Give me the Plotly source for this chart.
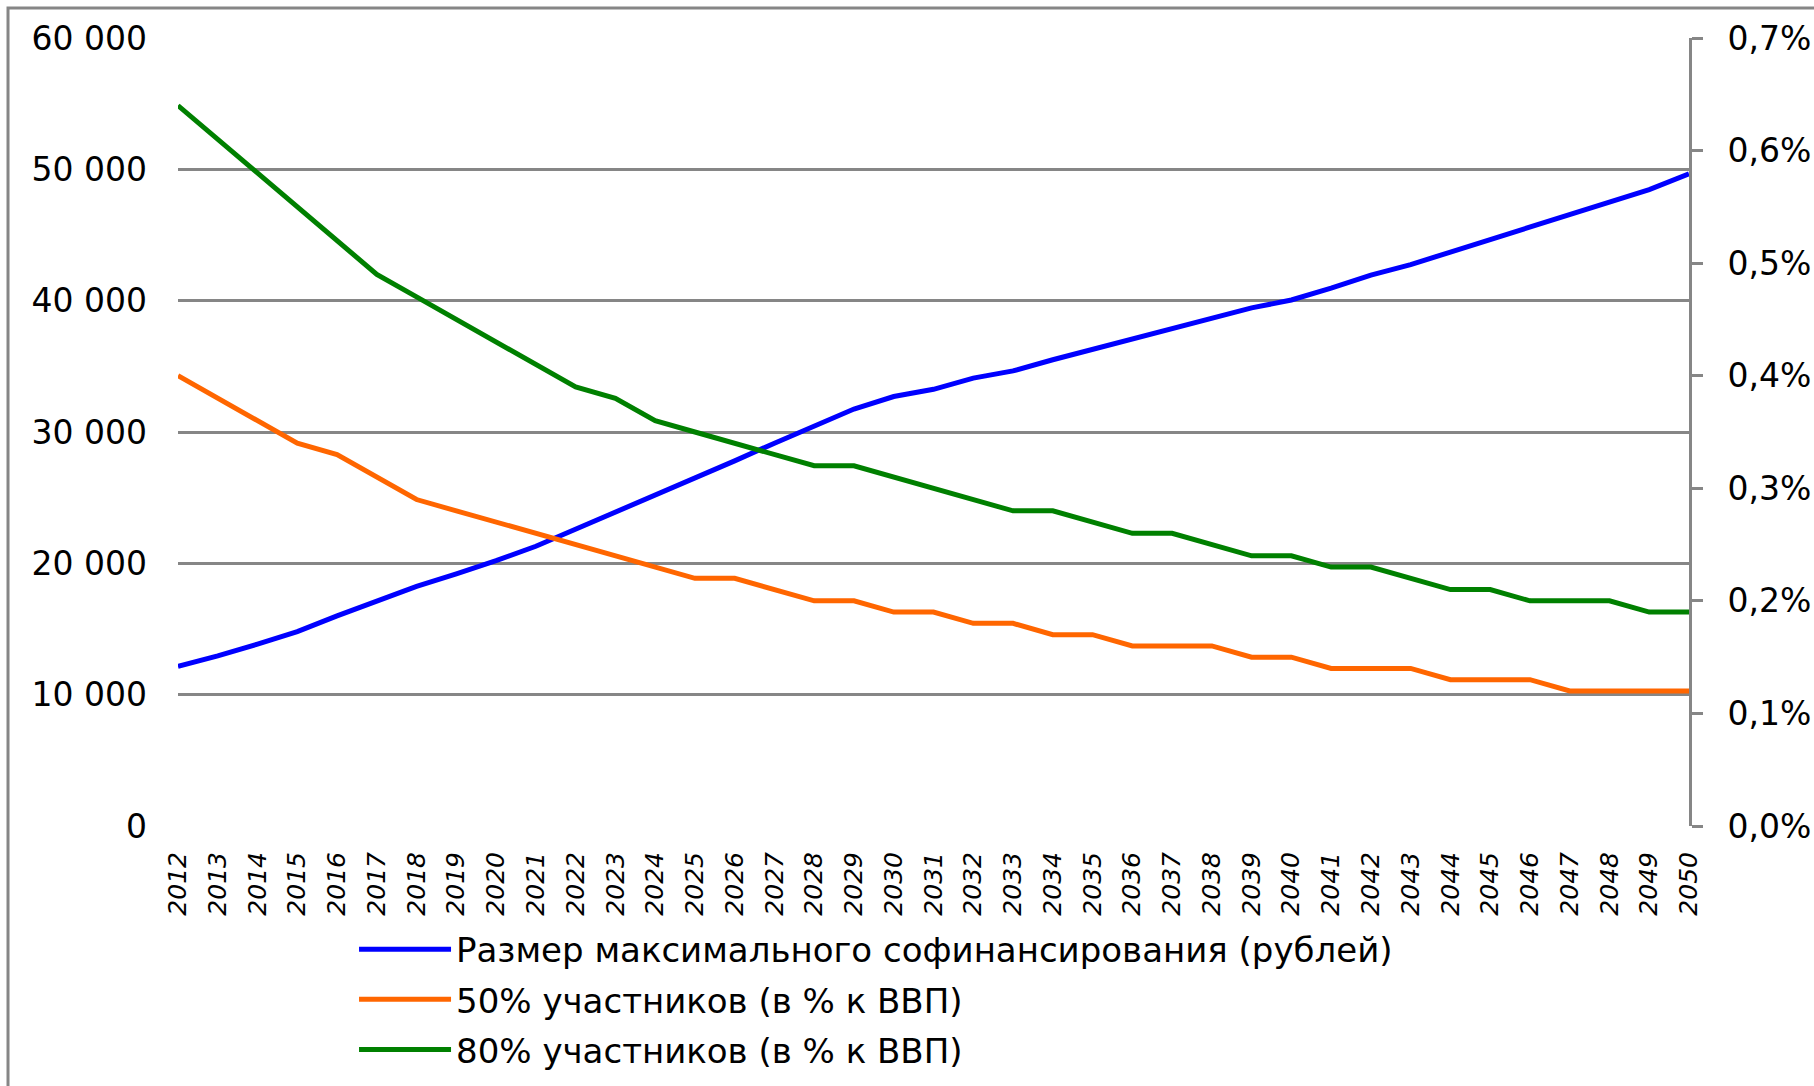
import plotly.graph_objects as go

YEARS = [str(y) for y in range(2012, 2051)]

# Размер максимального софинансирования, рублей (левая ось)
COFIN_RUB = [
    12150, 12950, 13850, 14800, 16000, 17100, 18250, 19200, 20200, 21300,
    22600, 23850, 25200, 26400, 27800, 29150, 30500, 31750, 32700, 33250,
    34100, 34650, 35500, 36300, 37100, 37900, 38700, 39450, 40050, 40950,
    41950, 42750, 43700, 44650, 45550, 46500, 47500, 48450, 49650,
]

# Расходы, доля ВВП (правая ось)
SHARE_50 = [
    0.0040, 0.0038, 0.0036, 0.0034, 0.0033, 0.0031, 0.0029, 0.0028, 0.0027, 0.0026,
    0.0025, 0.0024, 0.0023, 0.0022, 0.0022, 0.0021, 0.0020, 0.0020, 0.0019, 0.0019,
    0.0018, 0.0018, 0.0017, 0.0017, 0.0016, 0.0016, 0.0016, 0.0015, 0.0015, 0.0014,
    0.0014, 0.0014, 0.0013, 0.0013, 0.0013, 0.0012, 0.0012, 0.0012, 0.0012,
]
SHARE_80 = [
    0.0064, 0.0061, 0.0058, 0.0055, 0.0052, 0.0049, 0.0047, 0.0045, 0.0043, 0.0041,
    0.0039, 0.0038, 0.0036, 0.0035, 0.0034, 0.0033, 0.0032, 0.0032, 0.0031, 0.0030,
    0.0029, 0.0028, 0.0028, 0.0027, 0.0026, 0.0026, 0.0025, 0.0024, 0.0024, 0.0023,
    0.0023, 0.0022, 0.0021, 0.0021, 0.0020, 0.0020, 0.0020, 0.0019, 0.0019,
]

NAMES = [
    "Размер максимального софинансирования (рублей)",
    "50% участников (в % к ВВП)",
    "80% участников (в % к ВВП)",
]
COLORS = ["#0000FF", "#FF6600", "#008000"]
GRID = "#868686"
FONT = "DejaVu Sans"

fig = go.Figure()
fig.add_trace(go.Scatter(x=YEARS, y=COFIN_RUB, name=NAMES[0], mode="lines", legendgroup="a",
                         line=dict(color=COLORS[0], width=5)))
fig.add_trace(go.Scatter(x=YEARS, y=SHARE_50, name=NAMES[1], mode="lines", yaxis="y2",
                         legendgroup="b", line=dict(color=COLORS[1], width=5)))
fig.add_trace(go.Scatter(x=YEARS, y=SHARE_80, name=NAMES[2], mode="lines", yaxis="y2",
                         legendgroup="c", line=dict(color=COLORS[2], width=5)))

# рамка всей диаграммы (правый и нижний края уходят за кадр)
fig.add_shape(type="rect", xref="paper", yref="paper",
              x0=-0.1125, x1=1.2, y0=-0.5, y1=1.0381,
              line=dict(color=GRID, width=3), layer="below")

fig.update_layout(
    width=1814, height=1086,
    margin=dict(l=178, r=125, t=38, b=260, autoexpand=False),
    paper_bgcolor="white", plot_bgcolor="white",
    separators=", ",
    font=dict(family=FONT, size=33, color="black"),
    showlegend=True,
    legend=dict(
        x=0.1165, y=-0.12, xanchor="left", yanchor="top",
        orientation="v", itemwidth=92, traceorder="grouped", tracegroupgap=3,
        font=dict(family=FONT, size=34, color="black"),
        bgcolor="rgba(0,0,0,0)",
    ),
    xaxis=dict(
        type="category", showgrid=False, showline=False, ticks="", automargin=False,
        tickangle=-90, ticklabelstandoff=20,
        tickfont=dict(family=FONT, size=25, style="italic", color="black"),
    ),
    yaxis=dict(
        range=[0, 60000], dtick=10000, tickformat=",d", automargin=False,
        showgrid=True, gridcolor=GRID, gridwidth=2.5, zeroline=False,
        showline=False, ticks="", ticklabelstandoff=30,
        tickfont=dict(family=FONT, size=33, color="black"),
    ),
    yaxis2=dict(
        overlaying="y", side="right", range=[0, 0.007], dtick=0.001, tickformat=".1%",
        showgrid=False, zeroline=False, showline=True, linecolor=GRID, linewidth=3,
        ticks="outside", ticklen=11, tickwidth=2.5, tickcolor=GRID, automargin=False,
        ticklabelstandoff=18,
        tickfont=dict(family=FONT, size=33, color="black"),
    ),
)

fig.write_html("out.html", config={"displayModeBar": False},
               post_script="document.body.style.margin = '0';")
